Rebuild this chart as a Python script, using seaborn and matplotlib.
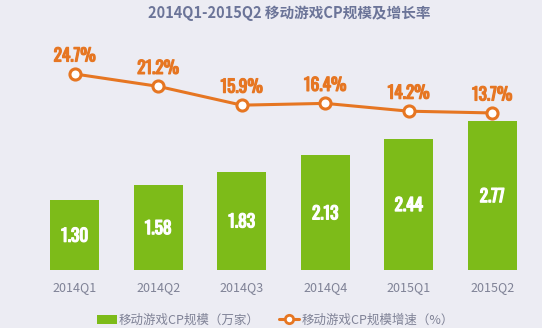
import matplotlib
matplotlib.use("Agg")
import matplotlib.pyplot as plt
from matplotlib import font_manager as fm
import matplotlib.patheffects as pe
import seaborn as sns
import pandas as pd
from matplotlib.patches import Patch
from matplotlib.lines import Line2D

quarters = ["2014Q1", "2014Q2", "2014Q3", "2014Q4", "2015Q1", "2015Q2"]
cp_scale = [1.30, 1.58, 1.83, 2.13, 2.44, 2.77]
growth = [24.7, 21.2, 15.9, 16.4, 14.2, 13.7]

title = "2014Q1-2015Q2 移动游戏CP规模及增长率"
bar_name = "移动游戏CP规模（万家）"
line_name = "移动游戏CP规模增速（%）"

BG = "#ECECF3"
GREEN = "#7DBB19"
ORANGE = "#E67622"
TITLE_C = "#6B7498"
TICK_C = "#7F8296"

sns.set_theme(style="white")
plt.rcParams["font.family"] = ["Noto Sans CJK SC", "DejaVu Sans"]

avail = {f.name for f in fm.fontManager.ttflist}
if "Oswald" in avail:
    num_font = dict(family="Oswald", fontweight="bold")
    bar_fs, pct_fs, sw = 12.5, 12.5, 0.9
else:
    num_font = dict(family="DejaVu Sans", fontweight="bold", fontstretch="condensed")
    bar_fs, pct_fs, sw = 12, 12.5, 0.0

df = pd.DataFrame({"q": quarters, "v": cp_scale, "g": growth})

fig = plt.figure(figsize=(5.42, 3.28), dpi=100, facecolor=BG)
ax = fig.add_axes([33 / 542, 1 - 270 / 328, (534 - 33) / 542, 240 / 328])
ax.set_facecolor(BG)

sns.barplot(data=df, x="q", y="v", ax=ax, color=GREEN, width=0.586,
            saturation=1, edgecolor="none")
ax.set_ylim(0, 240 / 53.8)
ax.set_xlim(-0.5, 5.5)
for i, v in enumerate(cp_scale):
    ax.annotate(f"{v:.2f}", (i, v / 2), xytext=(0, -4.8), textcoords="offset points",
                ha="center", va="baseline", color="white", fontsize=bar_fs,
                path_effects=[pe.withStroke(linewidth=sw, foreground="white")],
                **num_font)

ax2 = ax.twinx()
sns.pointplot(data=df, x="q", y="g", ax=ax2, color=ORANGE, markers="o",
              linewidth=2.2, markersize=6)
for ln in ax2.lines:
    ln.set_markerfacecolor("white")
    ln.set_markeredgecolor(ORANGE)
    ln.set_markeredgewidth(2.2)
    ln.set_markersize(8)
ax2.set_ylim(-30.6, 37.1)
ax2.set_xlim(-0.5, 5.5)
for i, g in enumerate(growth):
    ax2.annotate(f"{g:.1f}%", (i, g), xytext=(0, 9), textcoords="offset points",
                 ha="center", va="baseline", color=ORANGE, fontsize=pct_fs,
                 path_effects=[pe.withStroke(linewidth=sw, foreground=ORANGE)],
                 **num_font)

for a in (ax, ax2):
    for s in a.spines.values():
        s.set_visible(False)
    a.set_ylabel("")
    a.set_xlabel("")
    a.set_yticks([])
ax.tick_params(axis="x", length=0, pad=8, labelsize=9, colors=TICK_C)
ax2.tick_params(axis="x", length=0)

fig.text(289 / 542, 1 - 13 / 328, title, ha="center", va="center",
         color=TITLE_C, fontsize=10.5, fontweight="bold")

handles = [Patch(facecolor=GREEN, edgecolor="none"),
           Line2D([0], [0], color=ORANGE, lw=2.2, marker="o", markersize=6,
                  markerfacecolor="white", markeredgecolor=ORANGE, markeredgewidth=2)]
leg = fig.legend(handles, [bar_name, line_name], loc="center",
                 bbox_to_anchor=(275 / 542, 1 - 320 / 328), ncol=2, frameon=False,
                 fontsize=9, handlelength=1.6, handletextpad=0.2, columnspacing=1.5)
for t in leg.get_texts():
    t.set_color(TICK_C)

fig.savefig("out.png", dpi=100, facecolor=BG)
